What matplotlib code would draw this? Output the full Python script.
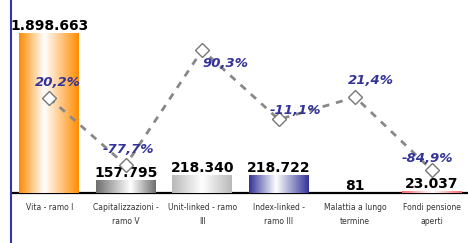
import numpy as np
import matplotlib.pyplot as plt
from matplotlib.colors import LinearSegmentedColormap

# dati
categorie = ["Vita - ramo I", "Capitalizzazioni -\nramo V", "Unit-linked - ramo\nIII",
             "Index-linked -\nramo III", "Malattia a lungo\ntermine", "Fondi pensione\naperti"]
premi = [1898663, 157795, 218340, 218722, 81, 23037]
variazioni = [20.2, -77.7, 90.3, -11.1, 21.4, -84.9]

# stile barre: colore bordo, posizione del bianco
colori = ["#ff8c00", "#6e6e6e", "#b8b8b8", "#333399", "#ff6666", "#ff6666"]
centro_bianco = [0.42, 0.58, 0.5, 0.45, 0.5, 0.5]
# spostamento etichette % (punti)
offs = [(6, 11), (2, 11), (17, -10), (12, 6.5), (11.5, 12), (-3, 8)]

fig = plt.figure(figsize=(4.68, 2.43), dpi=100)
ax = fig.add_axes([11 / 468, 0, 459 / 468, 1])
x = np.arange(len(premi))

bars = ax.bar(x, premi, width=0.78, color="none", edgecolor="none")
grad = np.linspace(0, 1, 256).reshape(1, -1)
for b, c, p in zip(bars, colori, centro_bianco):
    cm = LinearSegmentedColormap.from_list("g", [(0, c), (p, "white"), (1, c)])
    im = ax.imshow(grad, cmap=cm, aspect="auto", zorder=2,
                   extent=[b.get_x(), b.get_x() + b.get_width(), 0, b.get_height()])
    im.set_clip_path(b)

for i, v in enumerate(premi):
    ax.annotate(f"{v:,}".replace(",", "."), (i, v), xytext=(0, 0), textcoords="offset points",
                ha="center", va="bottom", fontsize=10, fontweight="bold", color="black", zorder=5)

for i, c in enumerate(categorie):
    ax.text(i, 0.163, c, transform=ax.get_xaxis_transform(), ha="center", va="top",
            fontsize=5.5, color="#333333", linespacing=1.6)

ax.axhline(0, color="black", lw=1.6, zorder=1.5)
ax.set_xlim(-0.5, 5.5)
ax.set_ylim(-593332, 2290262)
for s in ["top", "right", "bottom"]:
    ax.spines[s].set_visible(False)
ax.spines["left"].set_color("#3333aa")
ax.spines["left"].set_linewidth(1.5)
ax.set_xticks([])
ax.set_yticks([])

ax2 = ax.twinx()
ax2.plot(x, variazioni, ls=(0, (2.5, 2.5)), color="#888888", lw=2,
         marker="D", ms=7.5, mfc="white", mec="#777777", mew=1)
for i, v in enumerate(variazioni):
    ax2.annotate(f"{v:.1f}%".replace(".", ","), (i, v), xytext=offs[i], textcoords="offset points",
                 ha="center", va="center", fontsize=9.5, fontweight="bold", fontstyle="italic",
                 color="#333399")
ax2.set_ylim(-191.5, 163.3)
ax2.set_xlim(-0.5, 5.5)
for s in ax2.spines.values():
    s.set_visible(False)
ax2.set_yticks([])

fig.savefig("out.png", dpi=100)
